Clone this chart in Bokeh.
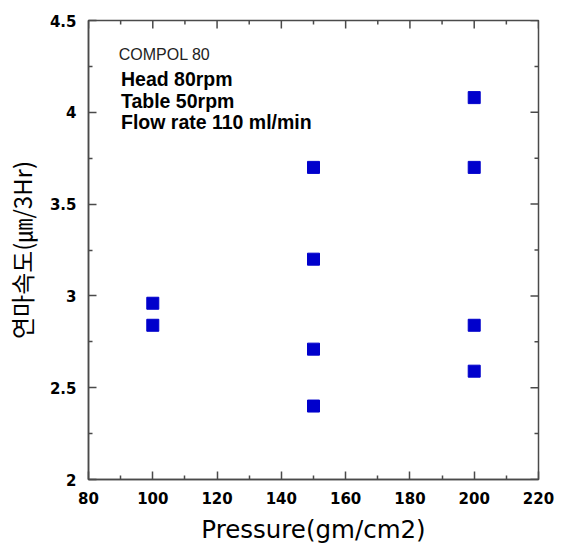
import math
from bokeh.plotting import figure
from bokeh.models import Range1d, FixedTicker, NumeralTickFormatter, Label, ColumnDataSource
from bokeh.embed import file_html
from bokeh.resources import INLINE

# data
pressure = [100, 100, 150, 150, 150, 150, 200, 200, 200, 200]
rate = [2.96, 2.84, 3.70, 3.20, 2.71, 2.40, 4.08, 3.70, 2.84, 2.59]

x_ticks = [80, 100, 120, 140, 160, 180, 200, 220]
x_minor = [90, 110, 130, 150, 170, 190, 210]
y_ticks = [2, 2.5, 3, 3.5, 4, 4.5]
y_minor = [2.25, 2.75, 3.25, 3.75, 4.25]

notes = ["COMPOL 80", "Head 80rpm", "Table 50rpm", "Flow rate 110 ml/min"]
note_x = [89.4, 90.1, 90.1, 90.1]
note_y = [4.315, 4.181, 4.064, 3.947]

AX = "#4a4a4a"
TICKFONT = "DejaVu Sans"
X0, X1 = 80, 220
Y0, Y1 = 2, 4.5

p = figure(width=567, height=546, output_backend="svg", toolbar_location=None,
           x_range=Range1d(X0, X1), y_range=Range1d(Y0, Y1),
           min_border_left=88, min_border_right=29, min_border_top=20, min_border_bottom=67,
           x_axis_label="Pressure(gm/cm2)", y_axis_label="연마속도(㎛/3Hr)")
p.grid.visible = False
p.outline_line_color = AX
p.outline_line_width = 1.5
p.background_fill_color = "white"
p.border_fill_color = "white"

src = ColumnDataSource(dict(x=pressure, y=rate))
p.scatter("x", "y", source=src, marker="square", size=12, fill_color="#0000CC", line_color="#0000CC")

def style(ax):
    ax.axis_line_color = AX
    ax.axis_line_width = 1.5
    ax.major_tick_line_color = AX
    ax.minor_tick_line_color = AX
    ax.major_tick_line_width = 1.5
    ax.minor_tick_line_width = 1.5
    ax.major_tick_in = 8
    ax.major_tick_out = 0
    ax.minor_tick_in = 4
    ax.minor_tick_out = 0
    ax.major_label_text_font = TICKFONT
    ax.major_label_text_font_style = "bold"
    ax.major_label_text_font_size = "15px"
    ax.major_label_text_color = "black"
    ax.major_label_standoff = 12
    ax.axis_label_text_font_style = "normal"
    ax.axis_label_text_color = "black"

xa = p.xaxis[0]
xa.ticker = FixedTicker(ticks=x_ticks, minor_ticks=x_minor)
style(xa)
xa.axis_label_text_font = "DejaVu Sans"
xa.axis_label_text_font_size = "24.5px"
xa.axis_label_standoff = 8

ya = p.yaxis[0]
ya.ticker = FixedTicker(ticks=y_ticks, minor_ticks=y_minor)
ya.formatter = NumeralTickFormatter(format="0.[0]")
style(ya)
ya.axis_label_text_font = "Noto Sans CJK KR"
ya.axis_label_text_font_size = "24px"
ya.axis_label_standoff = 8

# inward ticks on the top and right frame edges
p.ray(x=x_ticks, y=[Y1] * len(x_ticks), length=8, length_units="screen",
      angle=-math.pi / 2, line_color=AX, line_width=1.5)
p.ray(x=x_minor, y=[Y1] * len(x_minor), length=4, length_units="screen",
      angle=-math.pi / 2, line_color=AX, line_width=1.5)
p.ray(x=[X1] * len(y_ticks), y=y_ticks, length=8, length_units="screen",
      angle=math.pi, line_color=AX, line_width=1.5)
p.ray(x=[X1] * len(y_minor), y=y_minor, length=4, length_units="screen",
      angle=math.pi, line_color=AX, line_width=1.5)

for i, (t, x, y) in enumerate(zip(notes, note_x, note_y)):
    if i == 0:
        lab = Label(x=x, y=y, text=t, text_font="Liberation Sans", text_font_size="16px",
                    text_color="#222222", text_baseline="middle")
    else:
        lab = Label(x=x, y=y, text=t, text_font="Liberation Sans", text_font_size="19.5px",
                    text_font_style="bold", text_color="black", text_baseline="middle")
    p.add_layout(lab)

open("out.html", "w").write(file_html(p, INLINE))
